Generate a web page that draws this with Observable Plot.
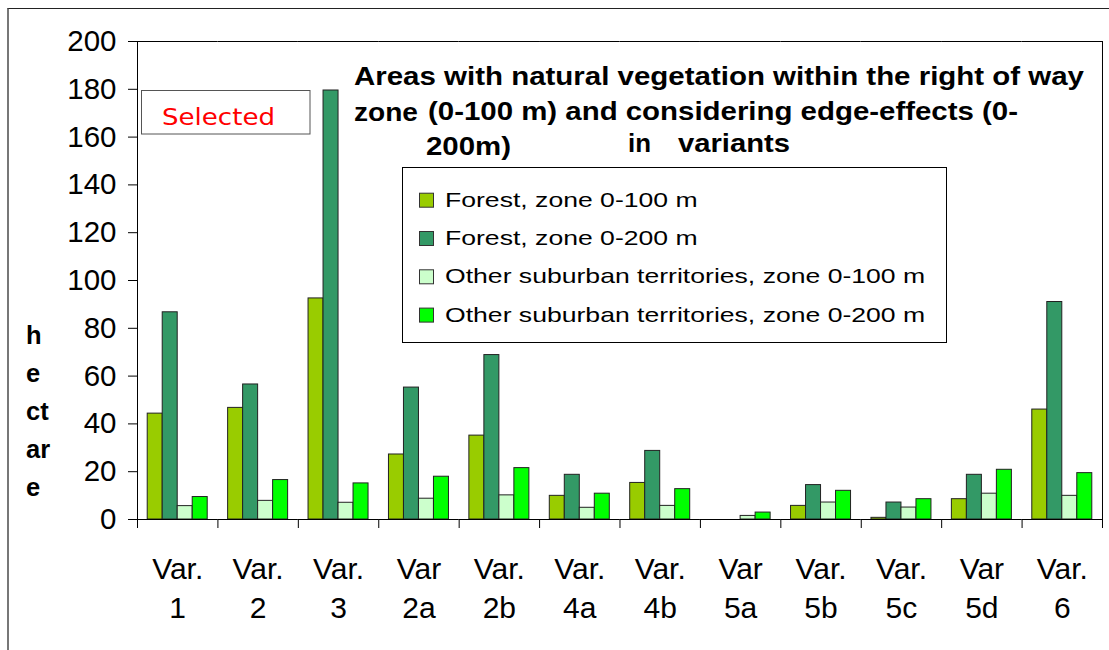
<!DOCTYPE html>
<html><head><meta charset="utf-8">
<script src="https://cdn.jsdelivr.net/npm/d3@7"></script>
<script src="https://cdn.jsdelivr.net/npm/@observablehq/plot@0.6"></script>
<style>
html,body{margin:0;padding:0;background:#fff;overflow:hidden;}
#wrap{position:relative;width:1109px;height:650px;overflow:hidden;}
#border{position:absolute;left:7px;top:8px;width:1200px;height:800px;border-top:1px solid #222;border-left:2px solid #777;}
#wrap svg{position:absolute;left:0;top:0;}
</style></head><body><div id="wrap"><div id="border"></div></div>
<script>
// ---- data ----
const categories = ["1","2","3","2a","2b","4a","4b","5a","5b","5c","5d","6"];
const tickLabels = ["Var.\n1","Var.\n2","Var.\n3","Var\n2a","Var.\n2b","Var.\n4a","Var.\n4b","Var\n5a","Var.\n5b","Var.\n5c","Var\n5d","Var.\n6"];
const seriesNames = ["Forest, zone 0-100 m","Forest, zone 0-200 m","Other suburban territories, zone 0-100 m","Other suburban territories, zone 0-200 m"];
const seriesColors = ["#99CC00","#339966","#CCFFCC","#00FF00"];
const forest100 = [44.3, 46.7, 92.5, 27.2, 35.1, 9.9, 15.3, 0, 5.7, 0.7, 8.5, 46.0];
const forest200 = [86.7, 56.5, 179.5, 55.2, 68.8, 18.7, 28.7, 0, 14.4, 7.1, 18.7, 91.0];
const other100  = [5.6, 7.8, 7.0, 8.7, 10.1, 4.9, 5.7, 1.5, 7.1, 5.0, 10.8, 9.9];
const other200  = [9.4, 16.5, 15.1, 17.9, 21.5, 10.8, 12.7, 2.9, 12.0, 8.5, 20.8, 19.4];
const yTicks = [0,20,40,60,80,100,120,140,160,180,200];
const yLabelLines = ["h","e","ct","ar","e"];
const titleParts = ["Areas with natural vegetation within the right of way","zone","(0-100 m) and considering edge-effects (0-","200m)","in","variants"];
const selectedText = "Selected";

// ---- layout ----
const values = [forest100, forest200, other100, other200];
const rows = categories.flatMap((c,i)=>seriesNames.map((s,j)=>({cat:c, series:s, value:values[j][i]})));
const W=1109, H=650, mL=137, mR=7, mT=41, mB=131;
const band = (W-mL-mR)/categories.length;
const barW = 15;
const pOuter = (band/barW - seriesNames.length)/2;
const edge = (pOuter+0.5)*barW;
const tickU = 9*200/(H-mT-mB);
const font = "'Liberation Sans', Arial, sans-serif";

const chart = Plot.plot({
  width: W, height: H, marginLeft: mL, marginRight: mR, marginTop: mT, marginBottom: mB,
  style: {fontFamily: font, color: "#000", background: "transparent", overflow: "visible"},
  fx: {domain: categories, padding: 0, round: false},
  x: {domain: seriesNames, paddingInner: 0, paddingOuter: pOuter, round: false, axis: null},
  y: {domain: [0,200]},
  color: {domain: seriesNames, range: seriesColors},
  marks: [
    Plot.ruleY([200], {stroke: "#000"}),
    Plot.barY(rows, {fx: "cat", x: "series", y: "value", fill: "series", stroke: "#222", strokeWidth: 1}),
    Plot.ruleY([0], {stroke: "#000"}),
    Plot.ruleX(categories, {fx: d=>d, x: () => seriesNames[0], y1: 0, y2: -tickU, dx: -edge, stroke: "#000"}),
    Plot.ruleX([categories[categories.length-1]], {fx: d=>d, x: () => seriesNames[seriesNames.length-1], y1: -tickU, y2: 200, dx: edge, stroke: "#000"}),
    Plot.ruleX([categories[0]], {fx: d=>d, x: () => seriesNames[0], y1: 0, y2: 200, dx: -edge, stroke: "#000"}),
    Plot.axisY(yTicks, {tickSize: 9, tickPadding: 12, fontSize: 29.5, label: null, tickFormat: d=>String(d), stroke: "#000"}),
    Plot.axisFx({anchor: "bottom", tickSize: 0, tickPadding: 32, fontSize: 30, lineHeight: 1.3, label: null, tickFormat: d => tickLabels[categories.indexOf(d)]})
  ]
});
document.getElementById("wrap").appendChild(chart);

// ---- overlay annotations: title, legend, y label, "Selected" ----
const ov = d3.select("#wrap").append("svg").attr("width", W).attr("height", H)
  .style("font-family", font).style("pointer-events","none");

// Selected box
ov.append("rect").attr("x",141.5).attr("y",90.5).attr("width",168.5).attr("height",43.5)
  .attr("fill","#fff").attr("stroke","#555");
ov.append("text").attr("x",162).attr("y",125).attr("fill","#ff0000")
  .style("font-family","'DejaVu Sans', sans-serif").style("font-size","23px")
  .attr("textLength",113).attr("lengthAdjust","spacingAndGlyphs").text(selectedText);

// title
const titlePos = [[354,85,730],[354,121,64],[428,120,590],[426,155,85],[628,152,23],[678,152,112]];
titleParts.forEach((t,i)=>{
  const [x,y,len] = titlePos[i];
  ov.append("text").attr("x",x).attr("y",y).style("font-weight","bold").style("font-size","25.5px")
    .attr("textLength",len).attr("lengthAdjust","spacingAndGlyphs").attr("fill","#000").text(t);
});

// y label
yLabelLines.forEach((t,i)=>{
  ov.append("text").attr("x",26).attr("y",343.5+i*38).style("font-weight","bold").style("font-size","25.5px").attr("fill","#000").text(t);
});

// legend
ov.append("rect").attr("x",402.5).attr("y",167.5).attr("width",544).attr("height",175)
  .attr("fill","#fff").attr("stroke","#000");
seriesNames.forEach((s,i)=>{
  const by = 206.7 + i*38.3;
  ov.append("rect").attr("x",419.5).attr("y",by-13.5).attr("width",14).attr("height",14)
    .attr("fill",seriesColors[i]).attr("stroke","#333");
  ov.append("text").attr("transform",`translate(445,${by}) scale(1.33,1)`).style("font-size","20px").attr("fill","#000").text(s);
});
</script></body></html>
